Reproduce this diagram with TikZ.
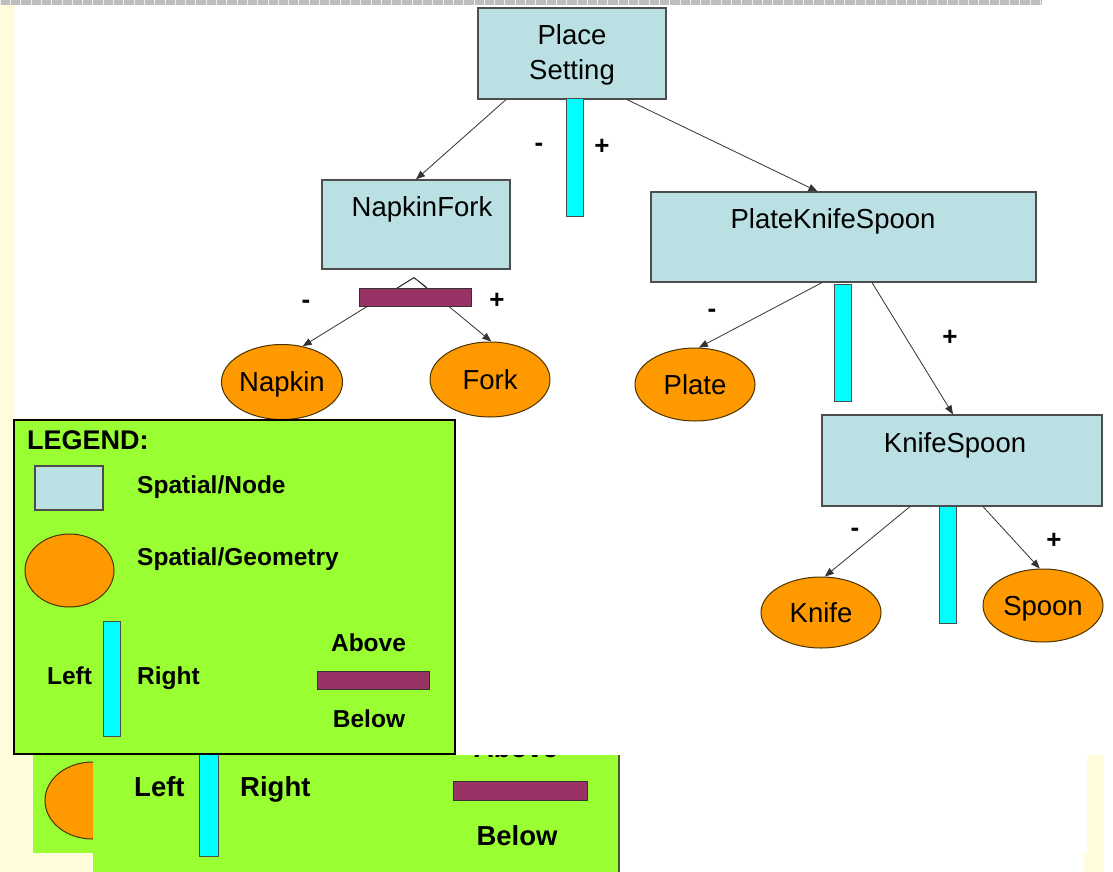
\documentclass[tikz,border=0pt]{standalone}
\usepackage{fontspec}
\setmainfont{Liberation Sans}
\usetikzlibrary{shapes.geometric,arrows.meta,calc}

\definecolor{nodeblue}{HTML}{BBE0E3}
\definecolor{nodeline}{HTML}{4D4D4D}
\definecolor{orangefill}{HTML}{FF9900}
\definecolor{ellline}{HTML}{4A3300}
\definecolor{barcyan}{HTML}{00FFFF}
\definecolor{barmaroon}{HTML}{993366}
\definecolor{legendgreen}{HTML}{99FF33}
\definecolor{paleyellow}{HTML}{FFFCDC}
\definecolor{bandgrey}{HTML}{BDBDBD}
\definecolor{connline}{HTML}{333333}
\definecolor{edgeolive}{HTML}{4A5A22}

\newcommand{\nodefont}{\fontsize{27.5}{35}\selectfont}
\newcommand{\legfont}{\fontsize{24.5}{30}\selectfont\bfseries}

\begin{document}
\begin{tikzpicture}[x=1pt,y=-1pt,
  snode/.style={rectangle,draw=nodeline,line width=1.2pt,fill=nodeblue,inner sep=0pt},
  gnode/.style={ellipse,draw=ellline,line width=1pt,fill=orangefill,inner sep=0pt,
    minimum width=120pt,minimum height=75pt,font=\nodefont,text height=19.7pt,text depth=0pt},
  lrbar/.style={rectangle,draw=nodeline,line width=1pt,fill=barcyan,inner sep=0pt},
  abbar/.style={rectangle,draw=black!80,line width=1pt,fill=barmaroon,inner sep=0pt},
  conn/.style={draw=connline,line width=0.8pt,-{Triangle[length=9pt,width=7pt]}},
  sign/.style={font=\fontsize{26}{28}\selectfont\bfseries,inner sep=0pt},
  ntext/.style={font=\nodefont,inner sep=0pt,align=center},
  ltext/.style={font=\legfont,inner sep=0pt,text height=17.5pt,text depth=0pt},
  ctext/.style={font=\fontsize{27.5}{32}\selectfont\bfseries,inner sep=0pt,text height=19.7pt,text depth=0pt}]

% page and borders
\useasboundingbox (0,0) rectangle (1113,872);
\fill[white] (0,0) rectangle (1113,872);
\fill[paleyellow] (0,5) rectangle (14,872);
\fill[paleyellow] (0,753) rectangle (33,872);
\fill[paleyellow] (0,853) rectangle (93,872);
\fill[paleyellow] (1087,755) rectangle (1104,872);
\fill[paleyellow] (1084,853) rectangle (1104,872);
\fill[bandgrey] (0,0) rectangle (1042,5);
\foreach \i in {0,...,101} \draw[white!75!bandgrey,line width=0.6pt] (\i*10.3,0) -- (\i*10.3,5);

% tree nodes
\node[snode,minimum width=188,minimum height=91] (ps) at (572,53.5) {};
\node[ntext] (pstext) at (572,54.5) {Place\\Setting};
\node[snode,minimum width=188,minimum height=89] (nf) at (416,224.5) {};
\node[ntext] (nftext) at (422,209) {NapkinFork};
\node[snode,minimum width=385,minimum height=90] (pks) at (843.5,237) {};
\node[ntext] (pkstext) at (833,221) {PlateKnifeSpoon};
\node[snode,minimum width=280,minimum height=91] (ks) at (962,460.5) {};
\node[ntext] (kstext) at (955,445) {KnifeSpoon};

\node[gnode] (napkin) at (282,382) {Napkin};
\node[gnode] (fork) at (490,379.5) {Fork};
\node[gnode,minimum height=73] (plate) at (695,384.5) {Plate};
\node[gnode,minimum height=71] (knife) at (821,612.5) {Knife};
\node[gnode,minimum height=73] (spoon) at (1043,605.5) {Spoon};

% connectors
\coordinate (nfapex) at ($(nf.south)+(-2,8)$);
\draw[conn] ($(ps.south)+(-66,0)$) -- (nf.north);
\draw[conn] ($(ps.south)+(55,0)$) -- ($(pks.north)+(-26,0)$);
\draw[connline,line width=0.8pt] ($(nfapex)+(-16,10)$) -- (nfapex) -- ($(nfapex)+(13,10)$);
\draw[conn] (nfapex) -- (napkin.60);
\draw[conn] (nfapex) -- (fork.88);
\draw[conn] ($(pks.south)+(-21.5,0)$) -- (plate.84);
\draw[conn] ($(pks.south)+(28.5,0)$) -- ($(ks.north)+(-9,0)$);
\draw[conn] ($(ks.south)+(-52,0)$) -- (knife.84);
\draw[conn] ($(ks.south)+(21,0)$) -- (spoon.95);

% split bars and sides
\node[lrbar,minimum width=17,minimum height=117] (psbar) at (574.5,157.5) {};
\node[abbar,minimum width=112,minimum height=18] (nfbar) at (415,297) {};
\node[lrbar,minimum width=17,minimum height=117] (pksbar) at (842.5,342.5) {};
\node[lrbar,minimum width=17,minimum height=117] (ksbar) at (947.5,564.5) {};

\node[sign] (psminus) at (539,147) {-};
\node[sign] (psplus) at (602,147) {+};
\node[sign] (nfminus) at (306,304) {-};
\node[sign] (nfplus) at (497,301) {+};
\node[sign] (pksminus) at (712,313) {-};
\node[sign] (pksplus) at (950,338) {+};
\node[sign] (ksminus) at (855,532) {-};
\node[sign] (ksplus) at (1054,541) {+};

% enlarged legend fragments behind the legend
\fill[legendgreen] (33,753) rectangle (93,853);
\begin{scope}
  \clip (33,753) rectangle (93,853);
  \node[gnode,minimum width=95,minimum height=77] (bigshape) at (92.5,800.5) {};
\end{scope}
\fill[legendgreen] (93,755) rectangle (619,872);
\begin{scope}
  \clip (93,755) rectangle (619,872);
  \node[lrbar,minimum width=19,minimum height=115] (bigbar) at (208.5,798.5) {};
  \node[abbar,minimum width=134,minimum height=19] (bigab) at (520,790.5) {};
  \node[ctext] (bigabove) at (516,748) {Above};
  \node[ctext,anchor=west] (bigleft) at (134,787) {Left};
  \node[ctext,anchor=west] (bigright) at (240,787) {Right};
  \node[ctext] (bigbelow) at (517,836) {Below};
\end{scope}
\draw[edgeolive,line width=2pt] (619,755) -- (619,872);

% legend
\node[rectangle,draw=black,line width=1.3pt,fill=legendgreen,minimum width=441,minimum height=334,inner sep=0pt] (legend) at (234.5,587) {};
\node[font=\fontsize{27}{30}\selectfont\bfseries,inner sep=0pt,text height=19.3pt,text depth=0pt,anchor=west] (legtitle) at (27,440) {LEGEND:};
\node[snode,minimum width=68,minimum height=44] (legbox) at (69,488) {};
\node[ltext,anchor=west] (legboxtext) at (137,485) {Spatial/Node};
\node[gnode,minimum width=89,minimum height=73] (legell) at (69.5,570.5) {};
\node[ltext,anchor=west] (legelltext) at (137,557) {Spatial/Geometry};
\node[lrbar,minimum width=17,minimum height=115] (legbar) at (111.5,678.5) {};
\node[ltext] (legleft) at (69.5,675.5) {Left};
\node[ltext,anchor=west] (legright) at (137,675.5) {Right};
\node[abbar,minimum width=112,minimum height=18] (legab) at (373,680) {};
\node[ltext] (legabove) at (368.5,643) {Above};
\node[ltext] (legbelow) at (369,719) {Below};
\end{tikzpicture}
\end{document}
